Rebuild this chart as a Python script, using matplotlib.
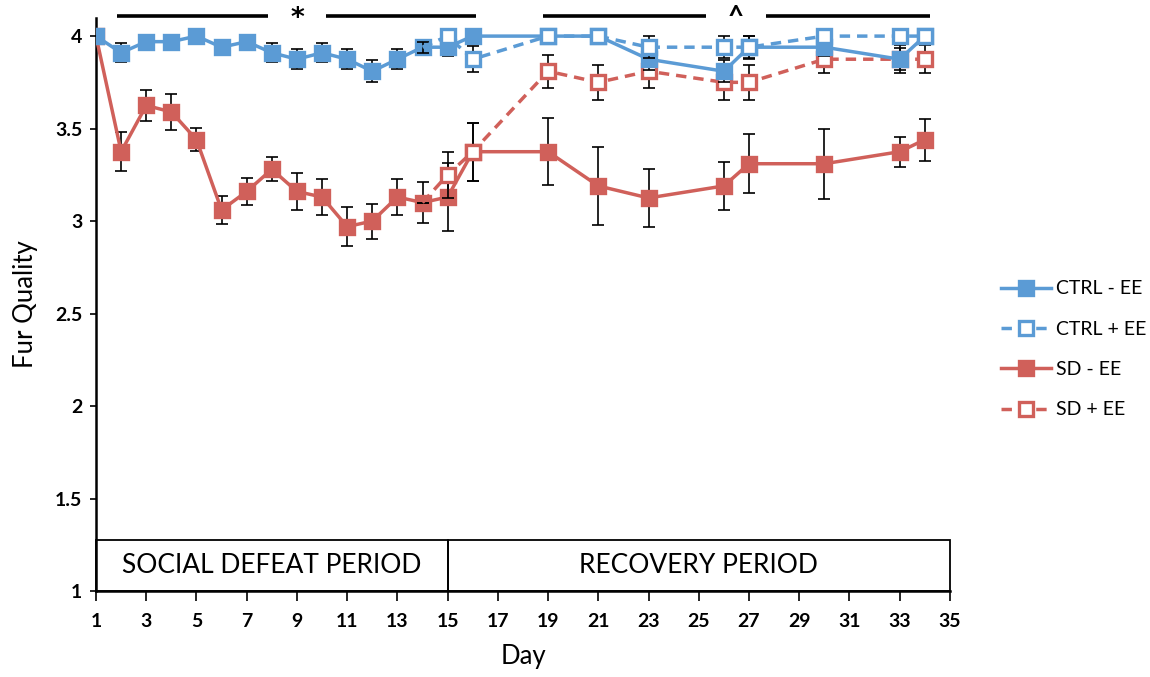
import matplotlib
matplotlib.use("Agg")
import matplotlib.pyplot as plt
from matplotlib.patches import Rectangle

plt.rcParams['font.family'] = ['Lato', 'DejaVu Sans']

# ---- data ----
days_main = [1, 2, 3, 4, 5, 6, 7, 8, 9, 10, 11, 12, 13, 14, 15, 16, 19, 21, 23, 26, 27, 30, 33, 34]
days_ee = [14, 15, 16, 19, 21, 23, 26, 27, 30, 33, 34]

ctrl_minus = [4.0, 3.91, 3.97, 3.97, 4.0, 3.94, 3.97, 3.91, 3.875, 3.91, 3.875, 3.81, 3.875, 3.94, 3.94, 4.0,
              4.0, 4.0, 3.875, 3.81, 3.94, 3.94, 3.875, 4.0]
ctrl_minus_err = [0.0, 0.05, 0.02, 0.02, 0.02, 0.03, 0.02, 0.05, 0.054, 0.05, 0.054, 0.06, 0.054, 0.03, 0.05, 0.02,
                  0.02, 0.02, 0.06, 0.06, 0.06, 0.05, 0.06, 0.03]

ctrl_plus = [3.94, 4.0, 3.875, 4.0, 4.0, 3.94, 3.94, 3.94, 4.0, 4.0, 4.0]
ctrl_plus_err = [0.03, 0.03, 0.07, 0.02, 0.02, 0.06, 0.06, 0.063, 0.03, 0.03, 0.03]

sd_minus = [4.0, 3.375, 3.625, 3.59, 3.44, 3.06, 3.16, 3.28, 3.16, 3.13, 2.97, 3.0, 3.13, 3.10, 3.13, 3.375,
            3.375, 3.19, 3.125, 3.19, 3.31, 3.31, 3.375, 3.44]
sd_minus_err = [0.0, 0.106, 0.084, 0.095, 0.063, 0.077, 0.074, 0.065, 0.099, 0.096, 0.105, 0.095, 0.096, 0.113,
                0.183, 0.157, 0.18, 0.21, 0.156, 0.13, 0.16, 0.19, 0.08, 0.114]

sd_plus = [3.10, 3.25, 3.375, 3.81, 3.75, 3.81, 3.75, 3.75, 3.875, 3.875, 3.875]
sd_plus_err = [0.0, 0.125, 0.157, 0.09, 0.093, 0.09, 0.093, 0.093, 0.076, 0.076, 0.076]

series_labels = ["CTRL - EE", "CTRL + EE", "SD - EE", "SD + EE"]
x_ticks = list(range(1, 36, 2))
y_ticks = [1, 1.5, 2, 2.5, 3, 3.5, 4]
y_tick_labels = ["1", "1.5", "2", "2.5", "3", "3.5", "4"]
periods = [("SOCIAL DEFEAT PERIOD", 1, 15), ("RECOVERY PERIOD", 15, 35)]
sig_marks = [("*", 1.84, 7.85, 10.16, 16.13), ("^", 18.8, 25.3, 27.67, 34.2)]

BLUE = "#5B9BD5"
RED = "#D0605A"

fig = plt.figure(figsize=(11.5, 6.77), dpi=100)
ax = fig.add_axes([0.0835, 0.127, 0.7425, 0.847])

ms = 10
lw = 2.5
dash = (0, (3, 2))

def plot_series(x, y, err, color, filled, ls, label, zo, skip_first=False):
    ax.errorbar(x, y, yerr=err, fmt='none', ecolor='black', elinewidth=1.2, capsize=4,
                capthick=1.2, zorder=zo - 1)
    me = list(range(1, len(x))) if skip_first else None
    ax.plot(x, y, color=color, lw=lw, linestyle=ls, marker='s', markersize=ms,
            markerfacecolor=color if filled else 'white', markeredgecolor=color,
            markeredgewidth=2.4, markevery=me, label=label, zorder=zo)

plot_series(days_main, sd_minus, sd_minus_err, RED, True, '-', series_labels[2], 4)
plot_series(days_ee, sd_plus, sd_plus_err, RED, False, dash, series_labels[3], 6, skip_first=True)
plot_series(days_main, ctrl_minus, ctrl_minus_err, BLUE, True, '-', series_labels[0], 8)
plot_series(days_ee, ctrl_plus, ctrl_plus_err, BLUE, False, dash, series_labels[1], 10, skip_first=True)

ax.set_xlim(1, 35)
ax.set_ylim(1, 4.1)
ax.set_xticks(x_ticks)
ax.set_xticklabels([str(v) for v in x_ticks], fontweight='bold', fontsize=14)
ax.set_yticks(y_ticks)
ax.set_yticklabels(y_tick_labels, fontweight='bold', fontsize=14)
ax.tick_params(axis='x', direction='out', length=7, width=1.2, pad=9)
ax.tick_params(axis='y', direction='out', length=4, width=1.2, pad=6)
for s in ['top', 'right']:
    ax.spines[s].set_visible(False)
for s in ['left', 'bottom']:
    ax.spines[s].set_linewidth(1.8)

ax.set_ylabel("Fur Quality", fontsize=18.5, labelpad=12)
ax.set_xlabel("Day", fontsize=18.5, labelpad=10)

for name, x0, x1 in periods:
    ax.add_patch(Rectangle((x0, 1), x1 - x0, 0.276, fill=False, edgecolor='black', lw=1.3,
                           zorder=2, clip_on=False))
    ax.text((x0 + x1) / 2, 1.14, name, ha='center', va='center', fontsize=19)

for sym, a0, a1, b0, b1 in sig_marks:
    ax.plot([a0, a1], [4.11, 4.11], color='black', lw=2.6, clip_on=False, solid_capstyle='butt')
    ax.plot([b0, b1], [4.11, 4.11], color='black', lw=2.6, clip_on=False, solid_capstyle='butt')
    if sym == "*":
        ax.text((a1 + b0) / 2, 4.095, sym, ha='center', va='center', fontsize=19, fontweight='bold',
                family='DejaVu Sans', clip_on=False)
    else:
        ax.text((a1 + b0) / 2, 4.10, sym, ha='center', va='center', fontsize=20, fontweight='bold',
                clip_on=False)

handles, labels = ax.get_legend_handles_labels()
order = [labels.index(l) for l in series_labels]
leg = fig.legend([handles[i] for i in order], [labels[i] for i in order],
                 loc='center left', bbox_to_anchor=(0.855, 0.484), frameon=False,
                 fontsize=14, handlelength=2.6, labelspacing=1.2, handletextpad=0.25)

fig.savefig("out.png", dpi=100)
